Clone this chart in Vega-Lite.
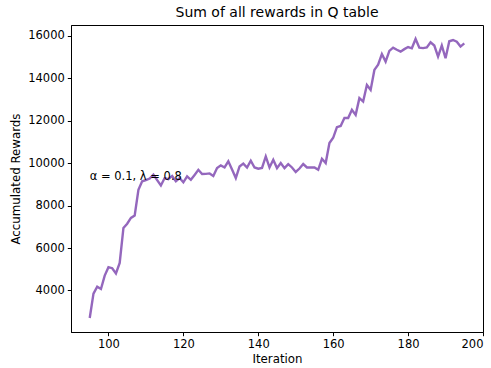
{
  "$schema": "https://vega.github.io/schema/vega-lite/v6.json",
  "autosize": "none",
  "width": 412,
  "height": 307,
  "padding": {"left": 71, "top": 25, "right": 8, "bottom": 36},
  "background": "white",
  "config": {
    "font": "DejaVu Sans",
    "view": {"stroke": "black", "strokeWidth": 1},
    "axis": {
      "grid": false,
      "domainColor": "black",
      "tickColor": "black",
      "tickSize": 3.7,
      "labelColor": "black",
      "titleColor": "black",
      "labelFont": "DejaVu Sans",
      "titleFont": "DejaVu Sans",
      "labelFontSize": 11.5,
      "titleFontSize": 11.8,
      "titleFontWeight": "normal",
      "labelPadding": 3
    }
  },
  "title": {
    "text": "Sum of all rewards in Q table",
    "font": "DejaVu Sans",
    "fontSize": 14,
    "fontWeight": "normal",
    "color": "black",
    "offset": 5
  },
  "datasets": {
    "rewards": [
      {"iteration": 95, "reward": 2700},
      {"iteration": 96, "reward": 3850},
      {"iteration": 97, "reward": 4180},
      {"iteration": 98, "reward": 4070},
      {"iteration": 99, "reward": 4700},
      {"iteration": 100, "reward": 5100},
      {"iteration": 101, "reward": 5050},
      {"iteration": 102, "reward": 4800},
      {"iteration": 103, "reward": 5300},
      {"iteration": 104, "reward": 6950},
      {"iteration": 105, "reward": 7150},
      {"iteration": 106, "reward": 7420},
      {"iteration": 107, "reward": 7530},
      {"iteration": 108, "reward": 8750},
      {"iteration": 109, "reward": 9150},
      {"iteration": 110, "reward": 9200},
      {"iteration": 111, "reward": 9280},
      {"iteration": 112, "reward": 9460},
      {"iteration": 113, "reward": 9200},
      {"iteration": 114, "reward": 8950},
      {"iteration": 115, "reward": 9300},
      {"iteration": 116, "reward": 9250},
      {"iteration": 117, "reward": 9400},
      {"iteration": 118, "reward": 9150},
      {"iteration": 119, "reward": 9300},
      {"iteration": 120, "reward": 9100},
      {"iteration": 121, "reward": 9380},
      {"iteration": 122, "reward": 9220},
      {"iteration": 123, "reward": 9450},
      {"iteration": 124, "reward": 9690},
      {"iteration": 125, "reward": 9490},
      {"iteration": 126, "reward": 9500},
      {"iteration": 127, "reward": 9520},
      {"iteration": 128, "reward": 9400},
      {"iteration": 129, "reward": 9770},
      {"iteration": 130, "reward": 9900},
      {"iteration": 131, "reward": 9800},
      {"iteration": 132, "reward": 10090},
      {"iteration": 133, "reward": 9700},
      {"iteration": 134, "reward": 9300},
      {"iteration": 135, "reward": 9850},
      {"iteration": 136, "reward": 9980},
      {"iteration": 137, "reward": 9800},
      {"iteration": 138, "reward": 10120},
      {"iteration": 139, "reward": 9800},
      {"iteration": 140, "reward": 9740},
      {"iteration": 141, "reward": 9780},
      {"iteration": 142, "reward": 10320},
      {"iteration": 143, "reward": 9800},
      {"iteration": 144, "reward": 10160},
      {"iteration": 145, "reward": 9770},
      {"iteration": 146, "reward": 10010},
      {"iteration": 147, "reward": 9770},
      {"iteration": 148, "reward": 9960},
      {"iteration": 149, "reward": 9800},
      {"iteration": 150, "reward": 9590},
      {"iteration": 151, "reward": 9750},
      {"iteration": 152, "reward": 9960},
      {"iteration": 153, "reward": 9800},
      {"iteration": 154, "reward": 9800},
      {"iteration": 155, "reward": 9800},
      {"iteration": 156, "reward": 9690},
      {"iteration": 157, "reward": 10210},
      {"iteration": 158, "reward": 10010},
      {"iteration": 159, "reward": 10950},
      {"iteration": 160, "reward": 11200},
      {"iteration": 161, "reward": 11700},
      {"iteration": 162, "reward": 11760},
      {"iteration": 163, "reward": 12130},
      {"iteration": 164, "reward": 12130},
      {"iteration": 165, "reward": 12520},
      {"iteration": 166, "reward": 12280},
      {"iteration": 167, "reward": 13070},
      {"iteration": 168, "reward": 12910},
      {"iteration": 169, "reward": 13690},
      {"iteration": 170, "reward": 13460},
      {"iteration": 171, "reward": 14400},
      {"iteration": 172, "reward": 14650},
      {"iteration": 173, "reward": 15150},
      {"iteration": 174, "reward": 14790},
      {"iteration": 175, "reward": 15300},
      {"iteration": 176, "reward": 15450},
      {"iteration": 177, "reward": 15350},
      {"iteration": 178, "reward": 15260},
      {"iteration": 179, "reward": 15380},
      {"iteration": 180, "reward": 15480},
      {"iteration": 181, "reward": 15420},
      {"iteration": 182, "reward": 15860},
      {"iteration": 183, "reward": 15450},
      {"iteration": 184, "reward": 15430},
      {"iteration": 185, "reward": 15460},
      {"iteration": 186, "reward": 15700},
      {"iteration": 187, "reward": 15550},
      {"iteration": 188, "reward": 15030},
      {"iteration": 189, "reward": 15550},
      {"iteration": 190, "reward": 14950},
      {"iteration": 191, "reward": 15750},
      {"iteration": 192, "reward": 15810},
      {"iteration": 193, "reward": 15730},
      {"iteration": 194, "reward": 15500},
      {"iteration": 195, "reward": 15650}
    ],
    "note": [
      {"iteration": 95, "reward": 9200, "label": "α = 0.1,  λ = 0.8"}
    ]
  },
  "encoding": {
    "x": {
      "field": "iteration",
      "type": "quantitative",
      "scale": {"domain": [90, 200], "nice": false, "zero": false},
      "axis": {"title": "Iteration", "values": [100, 120, 140, 160, 180, 200], "format": "d", "titlePadding": 3}
    },
    "y": {
      "field": "reward",
      "type": "quantitative",
      "scale": {"domain": [2042, 16518], "nice": false, "zero": false},
      "axis": {"title": "Accumulated Rewards", "values": [4000, 6000, 8000, 10000, 12000, 14000, 16000], "format": "d", "titlePadding": 6}
    }
  },
  "layer": [
    {
      "data": {"name": "rewards"},
      "mark": {"type": "line", "color": "#9467bd", "strokeWidth": 2.4}
    },
    {
      "data": {"name": "note"},
      "mark": {"type": "text", "align": "left", "baseline": "alphabetic", "font": "DejaVu Sans", "fontSize": 11.5, "color": "black"},
      "encoding": {"text": {"field": "label"}}
    }
  ]
}
